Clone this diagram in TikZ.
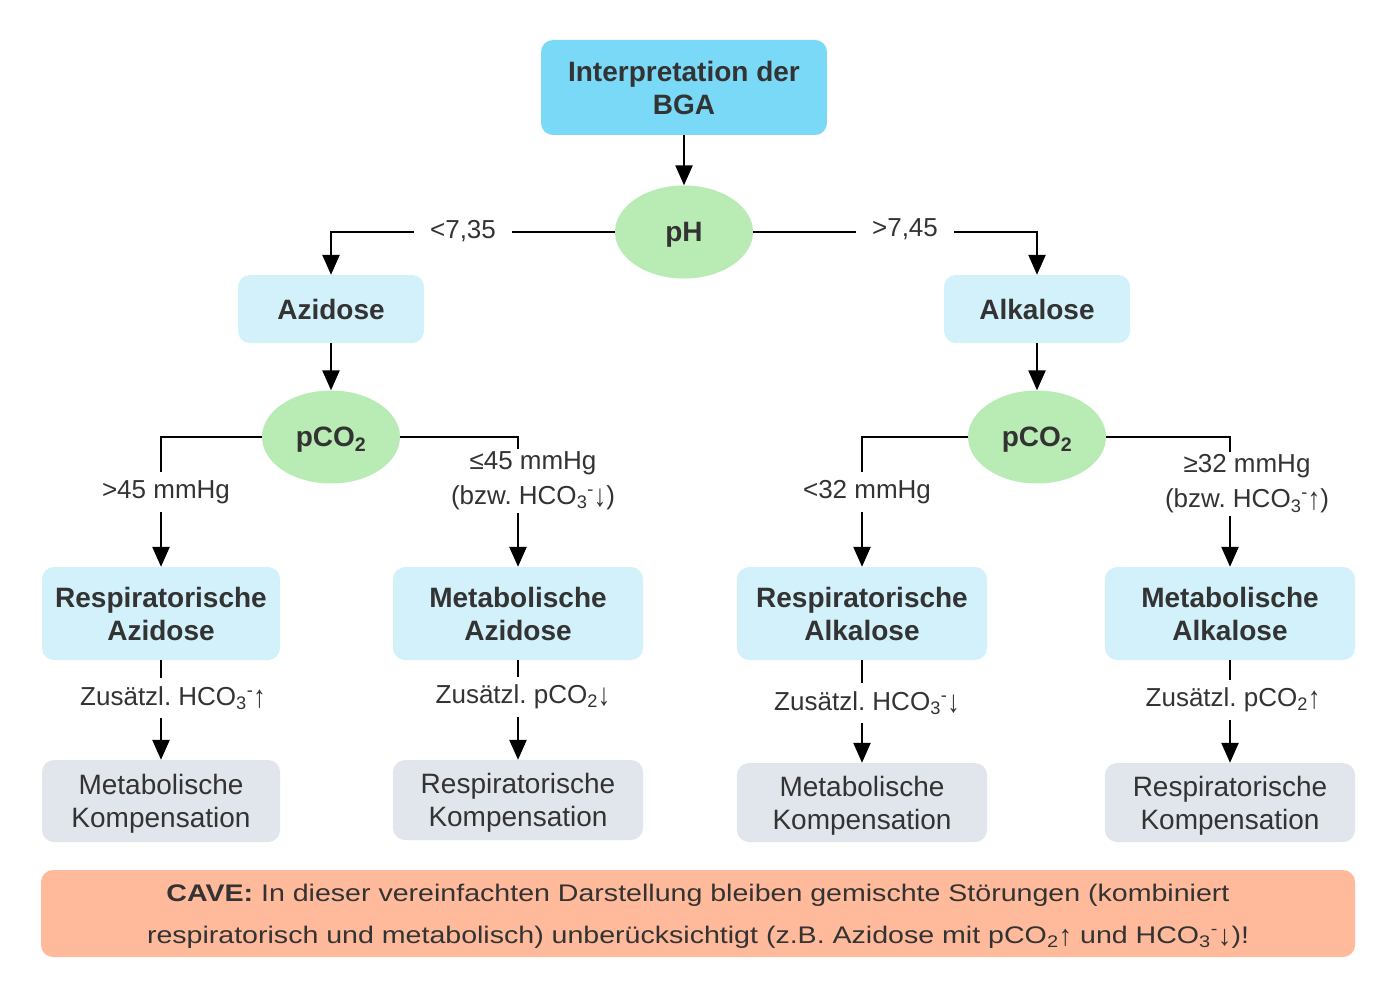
\documentclass[tikz,border=0pt]{standalone}
\usepackage{fontspec}
\usepackage{graphicx}
\setmainfont{Liberation Sans}
\newfontfamily\cavefont{Liberation Sans}[FakeStretch=1.19]
\usetikzlibrary{arrows.meta,shapes.geometric}
\definecolor{txt}{HTML}{333333}
\definecolor{topc}{HTML}{79D9F7}
\definecolor{lightc}{HTML}{D2F1FB}
\definecolor{greenc}{HTML}{B9EBB4}
\definecolor{grayc}{HTML}{E1E6ED}
\definecolor{cavec}{HTML}{FFBA9C}
\newcommand{\sbs}[1]{\textsubscript{#1}}
\newcommand{\sps}[1]{\textsuperscript{#1}}
\newcommand{\uparr}{\raisebox{-0.08em}{\scalebox{0.95}[1.2]{↑}}}
\newcommand{\dnarr}{\raisebox{-0.08em}{\scalebox{0.95}[1.2]{↓}}}
\frenchspacing
\begin{document}
\begin{tikzpicture}[x=1pt,y=-1pt,
  box/.style={rectangle, rounded corners=12pt, inner sep=0pt, text=txt, align=center, font=\fontsize{28}{33}\selectfont},
  bbox/.style={box, font=\fontsize{28}{33}\selectfont\bfseries},
  two/.style={text depth=#1},
  two/.default=-4pt,
  oval/.style={ellipse, fill=greenc, inner sep=0pt, minimum width=138, minimum height=93, text=txt, text depth=0pt, font=\fontsize{28}{33}\selectfont\bfseries},
  lbl/.style={fill=white, text=txt, align=center, inner xsep=4pt, inner ysep=3pt, font=\fontsize{26}{35}\selectfont},
  conn/.style={draw=black, line width=2.5pt, -{Triangle[width=17pt,length=20pt]}},
]
\useasboundingbox (0,0) rectangle (1399,1000);
\fill[white] (0,0) rectangle (1399,1000);

\node[bbox, two=-3pt, fill=topc, minimum width=286, minimum height=95] (top) at (684,87.5) {Interpretation der\\BGA};
\node[oval] (ph) at (684,232) {pH};

\node[bbox, fill=lightc, minimum width=186, minimum height=68] (azi) at (331,309) {Azidose};
\node[bbox, fill=lightc, minimum width=186, minimum height=68] (alk) at (1037,309) {Alkalose};

\node[oval] (pco2l) at (331,437) {pCO\sbs{2}};
\node[oval] (pco2r) at (1037,437) {pCO\sbs{2}};

\node[bbox, two, fill=lightc, minimum width=238, minimum height=93] (razi) at (161,613.5) {Respiratorische\\Azidose};
\node[bbox, two, fill=lightc, minimum width=250, minimum height=93] (mazi) at (518,613.5) {Metabolische\\Azidose};
\node[bbox, two, fill=lightc, minimum width=250, minimum height=93] (ralk) at (862,613.5) {Respiratorische\\Alkalose};
\node[bbox, two, fill=lightc, minimum width=250, minimum height=93] (malk) at (1230,613.5) {Metabolische\\Alkalose};

\node[box, two=-2pt, fill=grayc, minimum width=238, minimum height=82] (kraz) at (161,801) {Metabolische\\Kompensation};
\node[box, two=-2pt, fill=grayc, minimum width=250, minimum height=80] (kmaz) at (518,800) {Respiratorische\\Kompensation};
\node[box, two=-2pt, fill=grayc, minimum width=250, minimum height=79] (kral) at (862,802.5) {Metabolische\\Kompensation};
\node[box, two=-2pt, fill=grayc, minimum width=250, minimum height=79] (kmal) at (1230,802.5) {Respiratorische\\Kompensation};

\node[box, fill=cavec, minimum width=1314, minimum height=87] (cave) at (698,913.5) {};
\node[text=txt, align=center, inner sep=0pt, font=\cavefont\fontsize{24}{42}\selectfont] (cavetext) at (698,916.5)
  {\textbf{CAVE:} In dieser vereinfachten Darstellung bleiben gemischte Störungen (kombiniert\\respiratorisch und metabolisch) unberücksichtigt (z.B. Azidose mit pCO\sbs{2}\uparr{} und HCO\sbs{3}\sps{-}\dnarr)!};

% connectors
\draw[conn] (top.south) -- (ph.north);
\draw[conn] (ph.west) -| (azi.north);
\draw[conn] (ph.east) -| (alk.north);
\draw[conn] (azi.south) -- (pco2l.north);
\draw[conn] (alk.south) -- (pco2r.north);
\draw[conn] (pco2l.west) -| (razi.north);
\draw[conn] (pco2l.east) -| (mazi.north);
\draw[conn] (pco2r.west) -| (ralk.north);
\draw[conn] (pco2r.east) -| (malk.north);
\draw[conn] (razi.south) -- (kraz.north);
\draw[conn] (mazi.south) -- (kmaz.north);
\draw[conn] (ralk.south) -- (kral.north);
\draw[conn] (malk.south) -- (kmal.north);

% labels
\node[lbl, inner xsep=16pt] (l1) at (463,231) {<7,35};
\node[lbl, inner xsep=16pt] (l2) at (905,229) {>7,45};
\node[lbl, inner ysep=8pt] (l3) at (166,492) {>45 mmHg};
\node[lbl] (l4) at (533,481) {≤45 mmHg\\(bzw. HCO\sbs{3}\sps{-}\dnarr)};
\node[lbl, inner ysep=8pt] (l5) at (867,492) {<32 mmHg};
\node[lbl] (l6) at (1247,484) {≥32 mmHg\\(bzw. HCO\sbs{3}\sps{-}\uparr)};
\node[lbl, inner ysep=8pt] (l7) at (173,698) {Zusätzl. HCO\sbs{3}\sps{-}\uparr};
\node[lbl, inner ysep=8pt] (l8) at (523,697) {Zusätzl. pCO\sbs{2}\dnarr};
\node[lbl, inner ysep=8pt] (l9) at (867,703) {Zusätzl. HCO\sbs{3}\sps{-}\dnarr};
\node[lbl, inner ysep=8pt] (l10) at (1233,700) {Zusätzl. pCO\sbs{2}\uparr};
\end{tikzpicture}
\end{document}
